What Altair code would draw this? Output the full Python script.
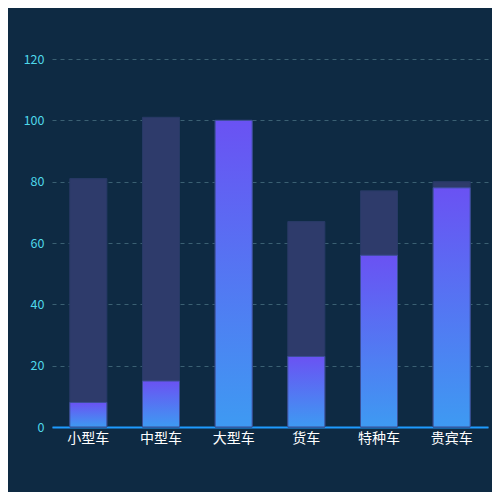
import altair as alt
import pandas as pd

categories = ["小型车", "中型车", "大型车", "货车", "特种车", "贵宾车"]
totals = [81, 101, 100, 67, 77, 80]
values = [8, 15, 100, 23, 56, 78]

df = pd.DataFrame({"cat": categories, "total": totals, "value": values})

FONT = "Noto Sans CJK SC"

x = alt.X("cat:N", sort=categories, title=None,
          scale=alt.Scale(paddingInner=0.49, paddingOuter=0.245),
          axis=alt.Axis(labelAngle=0, labelColor="#ffffff", labelFontSize=14,
                        labelFont=FONT, labelPadding=4, ticks=False,
                        domainColor="#1e9bff", domainWidth=2, grid=False))

yscale = alt.Scale(domain=[0, 120], nice=False)
yaxis = alt.Axis(values=[0, 20, 40, 60, 80, 100, 120], labelColor="#4fd8ea",
                 labelFontSize=12.5, labelFont=FONT, labelPadding=8, ticks=False,
                 domain=False, gridColor="#3b6073", gridDash=[4, 4], gridWidth=1)

bg = alt.Chart(df).mark_bar(color="#2e3b6b", stroke="#283a66", strokeWidth=1).encode(
    x=x,
    y=alt.Y("total:Q", scale=yscale, axis=yaxis, title=None),
)

grad = alt.Gradient(
    gradient="linear",
    stops=[alt.GradientStop(color="#6a52f3", offset=0),
           alt.GradientStop(color="#3e9af2", offset=1)],
    x1=0, x2=0, y1=0, y2=1,
)

fg = alt.Chart(df).mark_bar(color=grad, stroke="#3b4f95", strokeWidth=1).encode(
    x=x,
    y=alt.Y("value:Q", scale=yscale, title=None),
)

chart = alt.layer(bg, fg).properties(
    width=436, height=368,
    background="#0e2a43",
    padding={"left": 44, "top": 51, "right": 4, "bottom": 65},
    autosize=alt.AutoSizeParams(type="none"),
).configure_view(stroke=None)

chart.save("out.html", embed_options={"renderer": "svg", "actions": False})
